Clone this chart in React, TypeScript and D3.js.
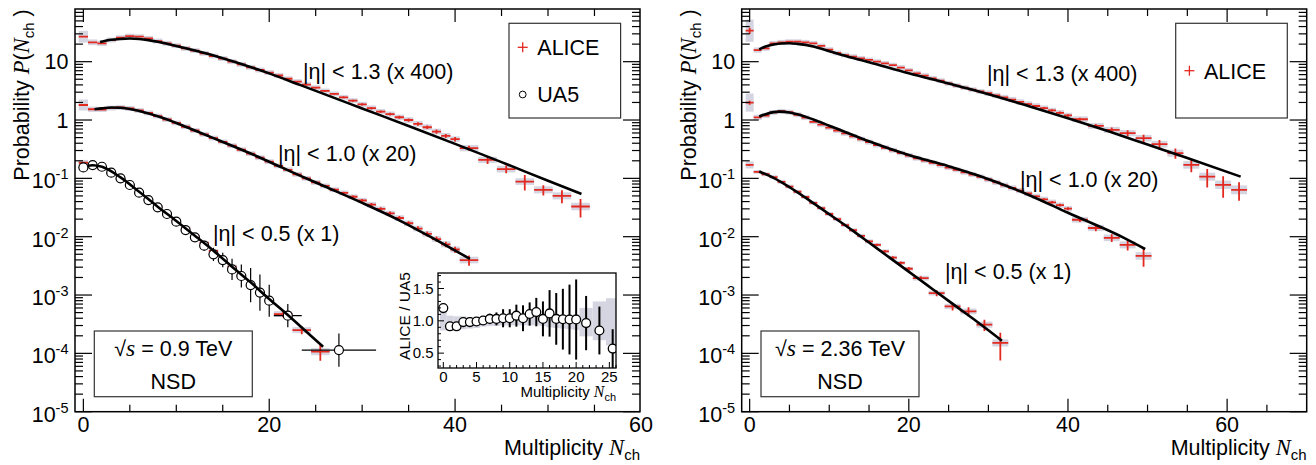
import React from "react";
import * as d3 from "d3";

// ---------------- DATA ----------------
const BINS_0_40 = [0,1,2,3,4,5,6,7,8,9,10,11,12,13,14,15,16,17,18,19,20,21,22,23,24,25,26,27,28,29,30,31,32,33,34,35,36,37,38,39,40];
const BINS_0_20 = [0,1,2,3,4,5,6,7,8,9,10,11,12,13,14,15,16,17,18,19,20];

// 0.9 TeV, |eta|<1.3 (x400)
const nL13 = [...BINS_0_40, 41.5, 43.5, 45.5, 47.5, 49.5, 51.5, 53.5];
const pL13 = [26.8,21.5,20.6,23.5,25.8,27.5,26.8,25.1,22.6,20.6, 18.8,16.9,15.5,13.9,12.5,11.3,10.0,9.0,8.0,7.2, 6.5,5.8,5.1,4.55,4.04,3.59,3.15,2.80,2.45,2.15, 1.85,1.60,1.39,1.26,1.115,1.0,0.858,0.752,0.634,0.535, 0.469, 0.329,0.207,0.144,0.0881,0.0635,0.0501,0.0329];
const statL13 = [0.01,0.01,0.01,0.01,0.01,0.01,0.01,0.01,0.01,0.01, 0.01,0.01,0.01,0.015,0.015,0.015,0.015,0.02,0.02,0.02, 0.02,0.025,0.025,0.03,0.03,0.03,0.035,0.035,0.04,0.04, 0.045,0.05,0.05,0.055,0.06,0.065,0.07,0.07,0.08,0.08, 0.09, 0.1,0.15,0.15,0.3,0.2,0.25,0.35];
const sysL13 = [0.26,0.12,0.11,0.1,0.1,0.1,0.1,0.1,0.1,0.1, 0.1,0.1,0.1,0.1,0.1,0.1,0.1,0.1,0.1,0.1, 0.1,0.1,0.1,0.1,0.1,0.1,0.1,0.1,0.1,0.1, 0.11,0.11,0.11,0.11,0.11,0.12,0.12,0.12,0.12,0.12, 0.12, 0.13,0.13,0.14,0.14,0.15,0.15,0.16];
const cL13N = [1.8,3,4,5,6,7,8,10,12,15,20,23.3,26.5,30,35,40,45,50,53.6];
const cL13P = [21.7,23.7,24.5,24.9,24.5,23.4,21.9,18.6,15.5,11.5,6.3,4.0,2.57,1.58,0.79,0.39,0.19,0.091,0.054];

// 0.9 TeV, |eta|<1.0 (x20)
const nL10 = [...BINS_0_40, 41.5];
const pL10 = [1.81,1.53,1.51,1.60,1.64,1.58,1.46,1.32,1.17,1.02, 0.891,0.767,0.661,0.569,0.490,0.422,0.363,0.309,0.266,0.226, 0.193,0.164,0.140,0.117,0.100,0.0851,0.0741,0.0638,0.0562,0.0484, 0.0417,0.0355,0.0299,0.0251,0.0209,0.0170,0.0138,0.0112,0.00912,0.00741, 0.00603, 0.00398];
const statL10 = [0.01,0.01,0.01,0.01,0.01,0.01,0.01,0.01,0.01,0.01, 0.01,0.01,0.015,0.015,0.015,0.02,0.02,0.02,0.025,0.025, 0.03,0.03,0.035,0.035,0.04,0.04,0.045,0.05,0.05,0.055, 0.06,0.065,0.07,0.075,0.08,0.085,0.09,0.1,0.1,0.11, 0.12, 0.2];
const sysL10 = [0.24,0.11,0.1,0.1,0.1,0.1,0.1,0.1,0.1,0.1, 0.1,0.1,0.1,0.1,0.1,0.1,0.1,0.1,0.1,0.1, 0.1,0.1,0.1,0.1,0.1,0.1,0.1,0.1,0.1,0.1, 0.11,0.11,0.11,0.11,0.12,0.12,0.12,0.12,0.12,0.13, 0.13, 0.14];
const cL10N = [1.2,2,3,4,5,6,8,10,12,14,16,18,20,23,26,30,34,38,41.6];
const cL10P = [1.53,1.585,1.64,1.62,1.55,1.43,1.16,0.891,0.661,0.490,0.363,0.266,0.193,0.117,0.0724,0.0380,0.0191,0.00871,0.00417];

// 0.9 TeV, |eta|<0.5 (x1)
const nL05 = [...BINS_0_20, 21.5, 23.5, 25.5];
const pL05 = [0.185,0.157,0.147,0.1225,0.098,0.077,0.0577,0.0434,0.0332,0.0255, 0.0190,0.0140,0.0102,0.00785,0.00568,0.00414,0.00308,0.00218,0.00152,0.00111, 0.00080, 4.72e-4,2.51e-4,1.07e-4];
const statL05 = [0.01,0.01,0.01,0.01,0.01,0.015,0.015,0.015,0.015,0.015, 0.02,0.02,0.025,0.03,0.03,0.035,0.04,0.045,0.05,0.055, 0.06, 0.12,0.15,0.3];
const sysL05 = [0.12,0.08,0.08,0.08,0.08,0.08,0.08,0.08,0.08,0.08, 0.08,0.08,0.08,0.08,0.08,0.08,0.08,0.08,0.08,0.08, 0.08, 0.12,0.12,0.15];
const cL05N = [0.5,1,2,4,6,8,10,12,14,16,18,20,22,24,25.8];
const cL05P = [0.165,0.168,0.158,0.104,0.059,0.0327,0.0186,0.0104,0.00575,0.00306,0.00165,0.000853,0.000454,0.000235,0.00013];

// UA5 |eta|<0.5 at 0.9 TeV
const nUA5 = [...BINS_0_20, 22, 27.5];
const pUA5 = [0.154,0.169,0.158,0.125,0.100,0.0769,0.0568,0.0425,0.0319,0.0245, 0.0181,0.0130,0.00974,0.00701,0.00498,0.00398,0.00275,0.00212,0.00148,0.0011, 0.0008, 0.000442,0.000114];
const errUA5 = [0.03,0.03,0.03,0.04,0.04,0.05,0.05,0.06,0.07,0.08, 0.09,0.11,0.14,0.22,0.30,0.33,0.52,0.58,0.96,1.04, 0.88, 0.58,0.93];
const xerrUA5 = [0,0,0,0,0,0,0,0,0,0, 0,0,0,0,0,0,0,0,0,0, 0, 1.5,4];

// 2.36 TeV, |eta|<1.3 (x400)
const nR13 = [...BINS_0_40, 41.5,43.5,45.5,47.5,49.5,51.5,53.5,55.5,57.5,59.5,61.5];
const pR13 = [34.0,15.8,16.9,20.6,21.5,22.0,22.0,21.5,20.6,18.6, 16.1,14.1,13.0,12.2,11.4,10.7,10.0,9.33,8.71,7.94, 7.08,6.31,5.77,5.19,4.73,4.26,3.89,3.59,3.31,3.09, 2.88,2.63,2.43,2.24,2.04,1.88,1.74,1.60,1.46,1.33, 1.20, 1.03,0.792,0.676,0.594,0.488,0.385,0.270,0.170,0.107,0.0776,0.0635];
const statR13 = [0.12,0.01,0.01,0.01,0.01,0.01,0.01,0.01,0.01,0.01, 0.01,0.01,0.01,0.01,0.01,0.01,0.01,0.01,0.01,0.01, 0.015,0.015,0.015,0.015,0.015,0.015,0.015,0.015,0.015,0.015, 0.02,0.02,0.025,0.025,0.03,0.03,0.035,0.04,0.045,0.05, 0.05, 0.06,0.08,0.1,0.12,0.15,0.18,0.2,0.25,0.35,0.4,0.35];
const sysR13 = [0.55,0.11,0.1,0.1,0.1,0.1,0.1,0.1,0.1,0.1, 0.1,0.1,0.1,0.1,0.1,0.1,0.1,0.1,0.1,0.1, 0.1,0.1,0.1,0.1,0.1,0.1,0.1,0.1,0.1,0.1, 0.11,0.11,0.11,0.11,0.11,0.11,0.11,0.11,0.11,0.11, 0.11, 0.12,0.12,0.13,0.13,0.14,0.14,0.15,0.16,0.17,0.18,0.19];
const cR13N = [1.2,2,3,4,5,6,8,10,11.6,15,20,25,28.9,35,40,45,50,55,61.7];
const cR13P = [16.3,18.2,19.7,20.5,20.7,20.2,18.2,15.1,13.0,9.77,6.31,4.22,3.06,1.74,1.07,0.646,0.380,0.224,0.107];

// 2.36 TeV, |eta|<1.0 (x20)
const nR10 = [...BINS_0_40, 41.5,43.5,45.5,47.5,49.5];
const pR10 = [1.99,1.114,1.189,1.349,1.413,1.365,1.23,1.096,0.933,0.832, 0.741,0.661,0.589,0.525,0.468,0.417,0.372,0.335,0.302,0.272, 0.245,0.221,0.202,0.184,0.168,0.153,0.140,0.127,0.116,0.106, 0.0955,0.0851,0.0759,0.0684,0.0617,0.0550,0.0490,0.0437,0.0389,0.0347, 0.0302, 0.0195,0.0141,0.00955,0.00724,0.00468];
const statR10 = [0.08,0.01,0.01,0.01,0.01,0.01,0.01,0.01,0.01,0.01, 0.01,0.01,0.01,0.01,0.01,0.01,0.01,0.01,0.01,0.01, 0.015,0.015,0.015,0.015,0.015,0.015,0.015,0.015,0.015,0.015, 0.02,0.02,0.025,0.03,0.03,0.035,0.04,0.045,0.05,0.055, 0.06, 0.08,0.12,0.15,0.2,0.35];
const sysR10 = [0.43,0.11,0.1,0.1,0.1,0.1,0.1,0.1,0.1,0.1, 0.1,0.1,0.1,0.1,0.1,0.1,0.1,0.1,0.1,0.1, 0.1,0.1,0.1,0.1,0.1,0.1,0.1,0.1,0.1,0.1, 0.11,0.11,0.11,0.11,0.11,0.11,0.11,0.11,0.11,0.11, 0.11, 0.12,0.13,0.14,0.15,0.16];
const cR10N = [1.2,2,3,3.7,5,6,8,10,12,15,20,25,28.9,35,40,47.1,49.7];
const cR10P = [1.146,1.259,1.365,1.393,1.349,1.259,1.023,0.800,0.625,0.432,0.251,0.162,0.110,0.0525,0.0257,0.00946,0.00614];

// 2.36 TeV, |eta|<0.5 (x1)
const nR05 = [...BINS_0_20, 21.5,23.5,25.5,27.5,29.5,31.5];
const pR05 = [0.170,0.129,0.1175,0.1047,0.0871,0.0724,0.0589,0.0479,0.0380,0.0309, 0.0245,0.0200,0.0158,0.0129,0.01035,0.00832,0.00724,0.00562,0.00437,0.00355, 0.00282, 0.00195,0.00108,0.000638,0.000524,0.00031,0.000151];
const statR05 = [0.03,0.01,0.01,0.01,0.01,0.01,0.015,0.015,0.015,0.015, 0.015,0.02,0.025,0.03,0.035,0.04,0.045,0.05,0.055,0.06, 0.07, 0.08,0.12,0.15,0.18,0.22,0.5];
const sysR05 = [0.15,0.08,0.08,0.08,0.08,0.08,0.08,0.08,0.08,0.08, 0.08,0.08,0.08,0.08,0.08,0.08,0.08,0.08,0.08,0.08, 0.08, 0.1,0.1,0.11,0.12,0.13,0.15];
const cR05N = [1.2,3,5,7,9,11,13,15,17,19,21,23,25,27,29,31.7];
const cR05P = [0.131,0.102,0.0708,0.0468,0.0302,0.0195,0.0126,0.00794,0.00501,0.00316,0.0020,0.00126,0.000794,0.000501,0.000316,0.000165];

// Inset: ALICE / UA5
const nRatio = [...BINS_0_20, 21.5, 23.5, 25.5];
const ratio = [1.197,0.915,0.915,0.98,0.98,0.99,1.005,1.03,1.03,1.04, 1.04,1.08,1.04,1.105,1.135,1.03,1.115,1.03,1.025,1.02, 1.02, 0.965,0.85,0.57];
const ratioErr = [0.03,0.02,0.02,0.02,0.02,0.02,0.04,0.08,0.1,0.14, 0.14,0.17,0.2,0.18,0.22,0.27,0.36,0.4,0.47,0.54, 0.62, 0.42,0.37,0.3];
const bandLo = [0.85,0.86,0.86,0.87,0.88,0.89,0.91,0.92,0.92,0.93, 0.93,0.93,0.93,0.93,0.93,0.92,0.9,0.89,0.88,0.87, 0.86, 0.76,0.7,0.62];
const bandHi = [1.15,1.08,1.07,1.07,1.06,1.06,1.06,1.06,1.06,1.06, 1.06,1.06,1.06,1.06,1.06,1.06,1.07,1.08,1.08,1.09, 1.1, 1.2,1.3,1.35];

const X_TICK_LABELS = [0, 20, 40, 60];
const INSET_X_LABELS = [0, 5, 10, 15, 20, 25];
const INSET_Y_LABELS = ["0.5", "1.0", "1.5"];
const DECADES = [-5, -4, -3, -2, -1, 0, 1];

// ---------------- STYLE ----------------
const SANS = "'Liberation Sans', Arial, Helvetica, sans-serif";
const SERIF = "'Liberation Serif', 'Times New Roman', serif";
const RED = "#e3281f";
const BAND = "#d4d5e0";
const FS = 21.5;

const Y_TOP = 9;
const Y_BOT = 411.7;
const yScale = d3.scaleLog().domain([1e-5, 80]).range([Y_BOT, Y_TOP]);

const hw = (n: number) => (Number.isInteger(n) ? 0.5 : 1);

function NchLabel({ size = FS, sub = 15 }: { size?: number; sub?: number }) {
  return (
    <>
      <tspan fontFamily={SERIF} fontStyle="italic" fontSize={size * 1.05}>N</tspan>
      <tspan fontSize={sub} dy={size * 0.25}>ch</tspan>
    </>
  );
}

type Ser = { n: number[]; p: number[]; stat: number[]; sys: number[] };
type Crv = { n: number[]; p: number[] };

function Panel(props: any) {
  const { id, x0, x1, dom, series, curves, ua5, labels, legend, box, titleX } = props;
  const x = d3.scaleLinear().domain(dom).range([x0, x1]);
  const y = yScale;
  const line = d3
    .line<[number, number]>()
    .x((d) => x(d[0]))
    .y((d) => y(d[1]))
    .curve(d3.curveMonotoneX);

  const xMinor = d3.range(0, dom[1] + 0.001, 5).filter((v) => x(v) <= x1 - 1 && v % 20 !== 0);
  const xMajor = d3.range(0, dom[1] + 0.001, 20).filter((v) => x(v) <= x1 - 1);
  const yMajor = DECADES.map((d) => Math.pow(10, d));
  const yMinor = DECADES.flatMap((d) => [2, 3, 4, 5, 6, 7, 8, 9].map((k) => k * Math.pow(10, d))).filter(
    (v) => v < 80
  );
  const clip = `clip-${id}`;

  return (
    <g>
      <defs>
        <clipPath id={clip}>
          <rect x={x0} y={Y_TOP} width={x1 - x0} height={Y_BOT - Y_TOP} />
        </clipPath>
      </defs>
      <g clipPath={`url(#${clip})`}>
        {series.map((s: Ser, si: number) =>
          s.n.map((n, i) => {
            const p = s.p[i];
            const f = 1 + s.sys[i];
            return (
              <rect
                key={`b${si}-${i}`}
                x={x(n - hw(n))}
                width={x(n + hw(n)) - x(n - hw(n))}
                y={y(p * f)}
                height={y(p / f) - y(p * f)}
                fill={BAND}
              />
            );
          })
        )}
        {series.map((s: Ser, si: number) =>
          s.n.map((n, i) => {
            const p = s.p[i];
            const e = s.stat[i];
            return (
              <g key={`c${si}-${i}`} stroke={RED} strokeWidth={1.8}>
                <line x1={x(n - hw(n))} x2={x(n + hw(n))} y1={y(p)} y2={y(p)} />
                <line x1={x(n)} x2={x(n)} y1={y(p * (1 + e))} y2={y(p * (1 - e))} />
              </g>
            );
          })
        )}
        {ua5 &&
          ua5.n.map((n: number, i: number) => {
            const p = ua5.p[i];
            const e = ua5.err[i];
            const xe = ua5.xerr[i];
            return (
              <g key={`u${i}`} stroke="#000" strokeWidth={1.2}>
                <line x1={x(n)} x2={x(n)} y1={y(p * (1 + e))} y2={y(p / (1 + e))} />
                {xe > 0 && <line x1={x(n - xe)} x2={x(n + xe)} y1={y(p)} y2={y(p)} />}
              </g>
            );
          })}
        {ua5 &&
          ua5.n.map((n: number, i: number) => (
            <circle key={`uc${i}`} cx={x(n)} cy={y(ua5.p[i])} r={4.5} fill="#fff" stroke="#000" strokeWidth={1.2} />
          ))}
        {curves.map((c: Crv, ci: number) => (
          <path
            key={`l${ci}`}
            d={line(c.n.map((n, i) => [n, c.p[i]] as [number, number])) || ""}
            fill="none"
            stroke="#000"
            strokeWidth={2.6}
          />
        ))}
      </g>

      <rect x={x0} y={Y_TOP} width={x1 - x0} height={Y_BOT - Y_TOP} fill="none" stroke="#000" strokeWidth={1.5} />

      <g stroke="#000" strokeWidth={1.2}>
        {xMajor.map((v) => (
          <g key={`xM${v}`}>
            <line x1={x(v)} x2={x(v)} y1={Y_BOT} y2={Y_BOT - 13} />
            <line x1={x(v)} x2={x(v)} y1={Y_TOP} y2={Y_TOP + 13} />
          </g>
        ))}
        {xMinor.map((v) => (
          <g key={`xm${v}`}>
            <line x1={x(v)} x2={x(v)} y1={Y_BOT} y2={Y_BOT - 7} />
            <line x1={x(v)} x2={x(v)} y1={Y_TOP} y2={Y_TOP + 7} />
          </g>
        ))}
        {yMajor.map((v) => (
          <g key={`yM${v}`}>
            <line x1={x0} x2={x0 + 17} y1={y(v)} y2={y(v)} />
            <line x1={x1} x2={x1 - 17} y1={y(v)} y2={y(v)} />
          </g>
        ))}
        {yMinor.map((v) => (
          <g key={`ym${v}`}>
            <line x1={x0} x2={x0 + 8} y1={y(v)} y2={y(v)} />
            <line x1={x1} x2={x1 - 8} y1={y(v)} y2={y(v)} />
          </g>
        ))}
      </g>

      <g fontSize={FS} fill="#000">
        {X_TICK_LABELS.map((v) => (
          <text key={`xl${v}`} x={x(v)} y={432} textAnchor="middle">
            {v}
          </text>
        ))}
        {DECADES.map((d) => {
          const v = Math.pow(10, d);
          if (d === 1 || d === 0)
            return (
              <text key={`yl${d}`} x={x0 - 6.5} y={y(v) + 7.5} textAnchor="end">
                {d === 1 ? "10" : "1"}
              </text>
            );
          return (
            <text key={`yl${d}`} x={x0 - 6.5} y={y(v) + 10} textAnchor="end">
              10
              <tspan dy={-9} fontSize={14.5}>
                {String(d)}
              </tspan>
            </text>
          );
        })}
      </g>

      <text x={x1} y={455} textAnchor="end" fontSize={FS}>
        Multiplicity <NchLabel />
      </text>
      <text transform={`translate(${titleX},95) rotate(-90)`} textAnchor="middle" fontSize={FS}>
        Probability{" "}
        <tspan fontFamily={SERIF} fontStyle="italic" fontSize={FS * 1.05}>
          P
        </tspan>
        (<NchLabel />
        <tspan dy={-FS * 0.25}> )</tspan>
      </text>

      {labels.map((l: any, i: number) => (
        <text key={`lab${i}`} x={l.x} y={l.y} fontSize={FS}>
          {l.t}
        </text>
      ))}

      <rect x={legend.x} y={23.3} width={111.6} height={94.7} fill="#fff" stroke="#333" strokeWidth={1.2} />
      {legend.items.map((it: any, i: number) => (
        <g key={`lg${i}`}>
          {it.kind === "alice" ? (
            <g stroke={RED} strokeWidth={1.3}>
              <line x1={legend.x + 13.7 - 5} x2={legend.x + 13.7 + 5} y1={it.y} y2={it.y} />
              <line x1={legend.x + 13.7} x2={legend.x + 13.7} y1={it.y - 5} y2={it.y + 5} />
            </g>
          ) : (
            <circle cx={legend.x + 13.7} cy={it.y} r={3.4} fill="#fff" stroke="#000" strokeWidth={1} />
          )}
          <text x={legend.x + 28.3} y={it.y + 7.8} fontSize={FS}>
            {it.label}
          </text>
        </g>
      ))}

      <rect x={box.x} y={331} width={158} height={65.7} fill="#fff" stroke="#333" strokeWidth={1.2} />
      <text x={box.x + 79} y={356} textAnchor="middle" fontSize={FS}>
        √<tspan fontFamily={SERIF} fontStyle="italic" fontSize={FS * 1.1}>s</tspan> = {box.energy} TeV
      </text>
      <text x={box.x + 79} y={389} textAnchor="middle" fontSize={FS}>
        NSD
      </text>
    </g>
  );
}

function Inset() {
  const X0 = 438, X1 = 616, T = 273, B = 368;
  const x = d3.scaleLinear().domain([-0.8, 26]).range([X0, X1]);
  const y = d3.scaleLinear().domain([0.27, 1.74]).range([B, T]);
  const minorX = d3.range(0, 26.01, 1);
  const minorY = d3.range(0.3, 1.741, 0.1);
  return (
    <g>
      <rect x={X0} y={T} width={X1 - X0} height={B - T} fill="#fff" />
      <defs>
        <clipPath id="clip-inset">
          <rect x={X0} y={T} width={X1 - X0} height={B - T} />
        </clipPath>
      </defs>
      <g clipPath="url(#clip-inset)">
        {nRatio.map((n, i) => (
          <rect
            key={`ib${i}`}
            x={x(n - hw(n))}
            width={x(n + hw(n)) - x(n - hw(n))}
            y={y(bandHi[i])}
            height={y(bandLo[i]) - y(bandHi[i])}
            fill={BAND}
          />
        ))}
        {nRatio.map((n, i) => (
          <line
            key={`ie${i}`}
            x1={x(n)}
            x2={x(n)}
            y1={y(ratio[i] + ratioErr[i])}
            y2={y(ratio[i] - ratioErr[i])}
            stroke="#000"
            strokeWidth={2}
          />
        ))}
        {nRatio.map((n, i) => (
          <circle key={`ic${i}`} cx={x(n)} cy={y(ratio[i])} r={4.4} fill="#fff" stroke="#000" strokeWidth={1.3} />
        ))}
      </g>
      <rect x={X0} y={T} width={X1 - X0} height={B - T} fill="none" stroke="#000" strokeWidth={1.3} />
      <g stroke="#000" strokeWidth={1}>
        {minorX.map((v) => (
          <line key={`ixt${v}`} x1={x(v)} x2={x(v)} y1={B} y2={B - (v % 5 === 0 ? 6 : 3)} />
        ))}
        {minorY.map((v, i) => {
          const major = Math.abs(v * 2 - Math.round(v * 2)) < 1e-6;
          return <line key={`iyt${i}`} x1={X0} x2={X0 + (major ? 6 : 3)} y1={y(v)} y2={y(v)} />;
        })}
      </g>
      <g fontSize={15}>
        {INSET_X_LABELS.map((v) => (
          <text key={`ixl${v}`} x={x(v)} y={382} textAnchor="middle">
            {v}
          </text>
        ))}
        {INSET_Y_LABELS.map((v) => (
          <text key={`iyl${v}`} x={433.5} y={y(parseFloat(v)) + 5} textAnchor="end">
            {v}
          </text>
        ))}
      </g>
      <text x={X1} y={397} textAnchor="end" fontSize={15}>
        Multiplicity <NchLabel size={15} sub={11} />
      </text>
      <text transform="translate(410,316) rotate(-90)" textAnchor="middle" fontSize={15.5}>
        ALICE / UA5
      </text>
    </g>
  );
}

export default function App() {
  const leftSeries: Ser[] = [
    { n: nL13, p: pL13, stat: statL13, sys: sysL13 },
    { n: nL10, p: pL10, stat: statL10, sys: sysL10 },
    { n: nL05, p: pL05, stat: statL05, sys: sysL05 },
  ];
  const leftCurves: Crv[] = [
    { n: cL13N, p: cL13P },
    { n: cL10N, p: cL10P },
    { n: cL05N, p: cL05P },
  ];
  const rightSeries: Ser[] = [
    { n: nR13, p: pR13, stat: statR13, sys: sysR13 },
    { n: nR10, p: pR10, stat: statR10, sys: sysR10 },
    { n: nR05, p: pR05, stat: statR05, sys: sysR05 },
  ];
  const rightCurves: Crv[] = [
    { n: cR13N, p: cR13P },
    { n: cR10N, p: cR10P },
    { n: cR05N, p: cR05P },
  ];
  return (
    <svg
      width={1316}
      height={465}
      viewBox="0 0 1316 465"
      style={{ position: "absolute", left: 0, top: 0, display: "block", background: "#fff" }}
      fontFamily={SANS}
    >
      <rect x={0} y={0} width={1316} height={465} fill="#fff" />
      <Panel
        id="left"
        x0={75}
        x1={640}
        dom={[-0.9, 59.9]}
        series={leftSeries}
        curves={leftCurves}
        ua5={{ n: nUA5, p: pUA5, err: errUA5, xerr: xerrUA5 }}
        titleX={29}
        labels={[
          { t: "|η| < 1.3 (x 400)", x: 303, y: 79 },
          { t: "|η| < 1.0 (x 20)", x: 278, y: 160.5 },
          { t: "|η| < 0.5 (x 1)", x: 213, y: 240.5 },
        ]}
        legend={{
          x: 509,
          items: [
            { kind: "alice", label: "ALICE", y: 47.3 },
            { kind: "ua5", label: "UA5", y: 94.5 },
          ],
        }}
        box={{ x: 94.3, energy: "0.9" }}
      />
      <Panel
        id="right"
        x0={741.7}
        x1={1306.7}
        dom={[-1, 70]}
        series={rightSeries}
        curves={rightCurves}
        titleX={696}
        labels={[
          { t: "|η| < 1.3 (x 400)", x: 987, y: 80.7 },
          { t: "|η| < 1.0 (x 20)", x: 1020, y: 186.5 },
          { t: "|η| < 0.5 (x 1)", x: 945, y: 279 },
        ]}
        legend={{ x: 1175.7, items: [{ kind: "alice", label: "ALICE", y: 70.7 }] }}
        box={{ x: 761, energy: "2.36" }}
      />
      <Inset />
    </svg>
  );
}
